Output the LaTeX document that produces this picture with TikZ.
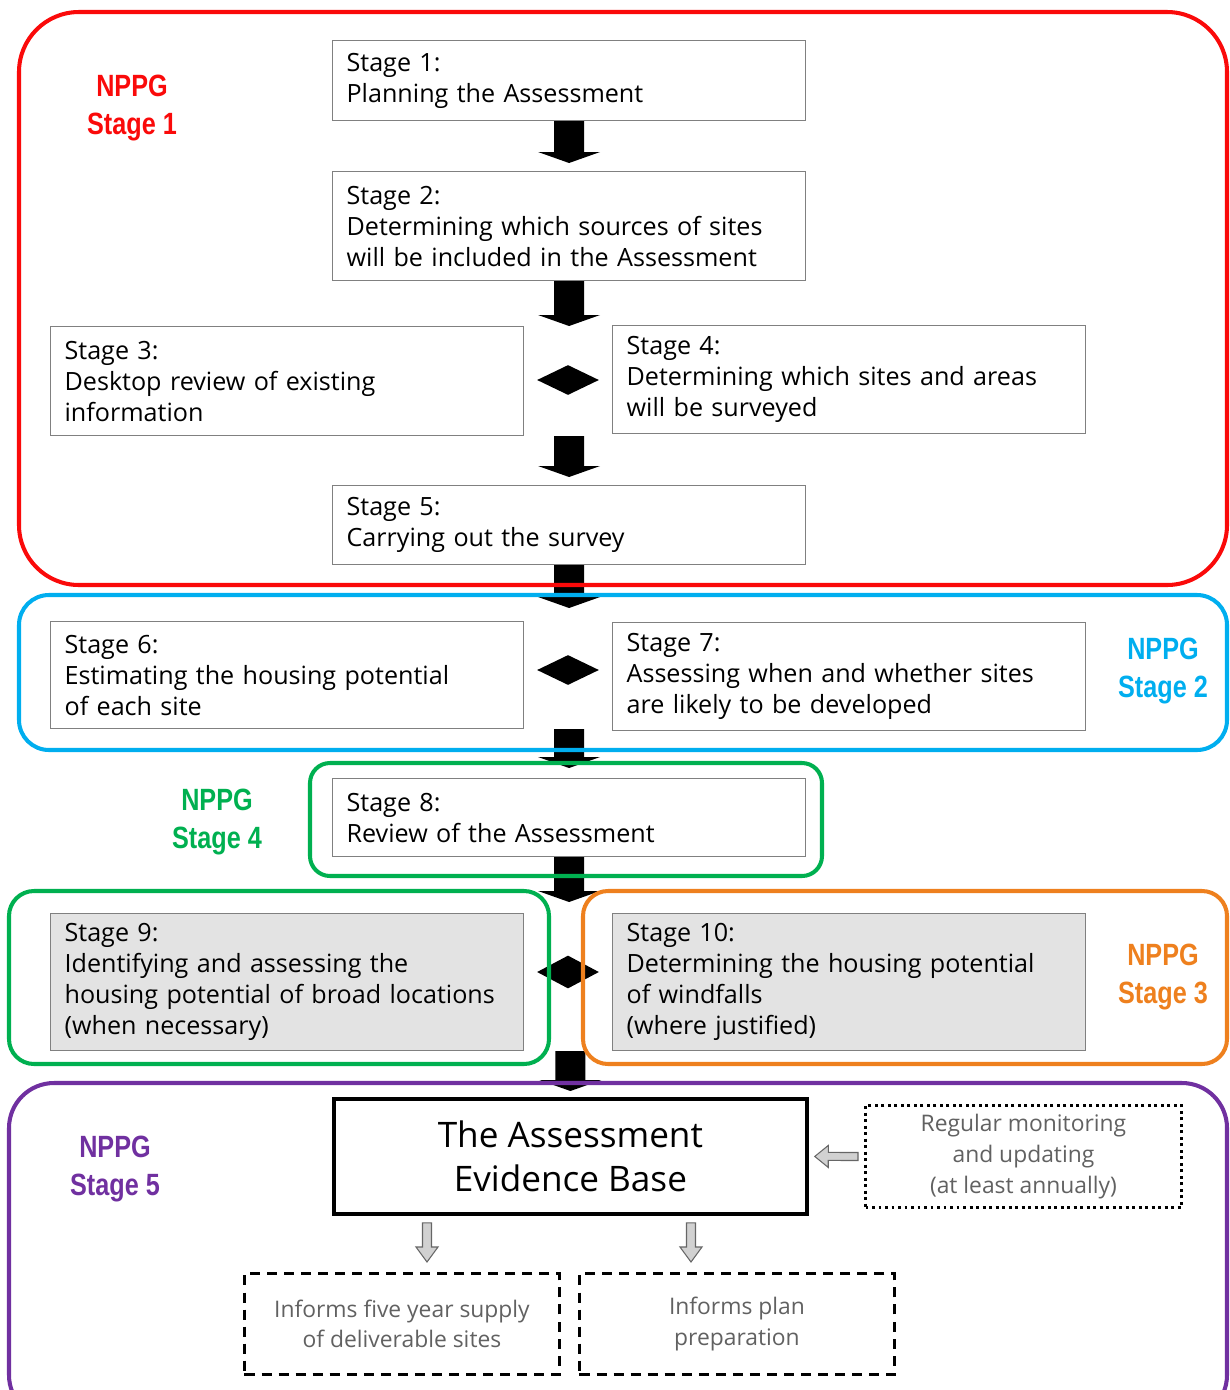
\documentclass[tikz,border=0pt]{standalone}
\usepackage{fontspec}
\setmainfont{Open Sans}
\newfontfamily\nppgfont[FakeStretch=0.82]{Liberation Sans}
\usetikzlibrary{calc,shapes.geometric}
\definecolor{nppgred}{RGB}{250,10,10}
\definecolor{nppgblue}{RGB}{0,174,239}
\definecolor{nppggreen}{RGB}{0,176,80}
\definecolor{nppgorange}{RGB}{238,128,30}
\definecolor{nppgpurple}{RGB}{112,48,160}
%% arrow as a polygon: style, from, to, half shaft, half head, head length
\newcommand\flowarrow[6]{%
  \coordinate (fa) at (#2);
  \coordinate (fb) at ($(#3)!#6!(fa)$);
  \path[#1] ($(fa)!#4!90:(fb)$) -- ($(fb)!#4!-90:(fa)$) -- ($(fb)!#5!-90:(fa)$) -- (#3)
    -- ($(fb)!#5!90:(fa)$) -- ($(fb)!#4!90:(fa)$) -- ($(fa)!#4!-90:(fb)$) -- cycle;}
\tikzset{
  stagebox/.style={draw=black!50,line width=0.7pt,anchor=north west,align=left,
    text width=8.9cm,inner xsep=0.28cm,minimum height=#1,
    font=\fontsize{14.3}{17.6}\selectfont},
  greybox/.style={stagebox=#1,fill=black!11},
  outbox/.style={anchor=north west,align=center,text=black!62,line width=1.7pt,
    font=\fontsize{13}{17.4}\selectfont},
  joiner/.style={diamond,fill=black,inner sep=0pt,minimum width=1.24cm,minimum height=0.6cm},
  blockarrow/.style={fill=black},
  hollowarrow/.style={fill=black!18,draw=black!60,line width=0.6pt},
  frame/.style={line width=2.3pt},
  nppg/.style={align=center,font=\nppgfont\fontsize{17.5}{21.8}\selectfont\bfseries}
}
\begin{document}
\begin{tikzpicture}[x=0.02cm,y=-0.02cm]
    \useasboundingbox (0,0) rectangle (1230,1390);
    \clip (0,0) rectangle (1230,1390);
    %% Stages
    \node[stagebox=1.6cm] (s1) at (332,40) {Stage 1:\\Planning the Assessment};
    \node[stagebox=2.18cm] (s2) at (332,171) {Stage 2:\\Determining which sources of sites\\will be included in the Assessment};
    \node[stagebox=2.18cm] (s3) at (50,326) {Stage 3:\\Desktop review of existing\\information};
    \node[stagebox=2.16cm] (s4) at (612,325) {Stage 4:\\Determining which sites and areas\\will be surveyed};
    \node[stagebox=1.58cm] (s5) at (332,485) {Stage 5:\\Carrying out the survey};
    \node[stagebox=2.14cm] (s6) at (50,621) {Stage 6:\\Estimating the housing potential\\of each site};
    \node[stagebox=2.16cm] (s7) at (612,622) {Stage 7:\\Assessing when and whether sites\\are likely to be developed};
    \node[stagebox=1.56cm] (s8) at (332,778) {Stage 8:\\Review of the Assessment};
    \node[greybox=2.74cm] (s9) at (50,913) {Stage 9:\\Identifying and assessing the\\housing potential of broad locations\\(when necessary)};
    \node[greybox=2.74cm] (s10) at (612,913) {Stage 10:\\Determining the housing potential\\of windfalls\\(where justified)};
    %% Evidence base and outputs
    \node[draw,line width=2.2pt,anchor=north west,align=center,minimum width=9.46cm,minimum height=2.3cm,
      font=\fontsize{20}{25}\selectfont] (ev) at (332,1097) {The Assessment\\Evidence Base};
    \node[outbox,draw,dotted,minimum width=6.32cm,minimum height=2.04cm] (mon) at (864,1104) {Regular monitoring\\and updating\\(at least annually)};
    \node[outbox,draw,dash pattern=on 5.7pt off 4pt,minimum width=6.3cm,minimum height=2.02cm] (inf1) at (243,1272) {Informs five year supply\\of deliverable sites};
    \node[outbox,draw,dash pattern=on 5.7pt off 4pt,minimum width=6.3cm,minimum height=2.02cm] (inf2) at (578,1272) {Informs plan\\preparation};
    %% Joiners
    \node[joiner] (d1) at (568,380) {};
    \node[joiner] (d2) at (568,670) {};
    \node[joiner,minimum height=0.66cm] (d3) at (568,972) {};
    %% Arrows
    \coordinate (t1) at ($(s2.north)+(0,-8)$);
    \coordinate (t2) at (s2.south |- s3.north);
    \coordinate (t3) at ($(s5.north)+(0,-8)$);
    \coordinate (t4) at ($(s5.south |- s6.north)+(0,-13)$);
    \coordinate (t5) at ($(s8.north)+(0,-10)$);
    \coordinate (t6) at ($(s8.south |- s9.north)+(0,-11)$);
    \coordinate (t7) at ($(ev.north)+(0,-6)$);
    \flowarrow{blockarrow}{s1.south}{t1}{0.3cm}{0.62cm}{0.22cm}
    \flowarrow{blockarrow}{s2.south}{t2}{0.3cm}{0.62cm}{0.22cm}
    \flowarrow{blockarrow}{s5.north |- s3.south}{t3}{0.3cm}{0.62cm}{0.22cm}
    \flowarrow{blockarrow}{s5.south}{t4}{0.3cm}{0.62cm}{0.22cm}
    \flowarrow{blockarrow}{s8.north |- s6.south}{t5}{0.3cm}{0.62cm}{0.22cm}
    \flowarrow{blockarrow}{s8.south}{t6}{0.3cm}{0.62cm}{0.22cm}
    \flowarrow{blockarrow}{ev.north |- s9.south}{t7}{0.3cm}{0.62cm}{0.22cm}
    \coordinate (m0) at ($(mon.west)+(-6,0)$);
    \coordinate (m1) at ($(ev.east)+(6,0)$);
    \coordinate (o1) at ($(ev.south west)+(95,7)$);
    \coordinate (p1) at ($(o1 |- inf1.north)+(0,-10)$);
    \coordinate (o2) at ($(ev.south west)+(359,7)$);
    \coordinate (p2) at ($(o2 |- inf2.north)+(0,-10)$);
    \flowarrow{hollowarrow}{m0}{m1}{0.08cm}{0.22cm}{0.27cm}
    \flowarrow{hollowarrow}{o1}{p1}{0.09cm}{0.22cm}{0.3cm}
    \flowarrow{hollowarrow}{o2}{p2}{0.09cm}{0.22cm}{0.3cm}
    %% NPPG frames
    \draw[frame,nppgred,rounded corners=1.2cm] (19,12) rectangle (1227,585);
    \draw[frame,nppgblue,rounded corners=0.6cm] (19,595) rectangle (1227,750);
    \draw[frame,nppggreen,rounded corners=0.4cm] (310,763) rectangle (822,876);
    \draw[frame,nppggreen,rounded corners=0.5cm] (9,891) rectangle (549,1064);
    \draw[frame,nppgorange,rounded corners=0.5cm] (583,891) rectangle (1227,1064);
    \draw[frame,nppgpurple,rounded corners=0.9cm] (9,1083) rectangle (1227,1420);
    %% NPPG labels
    \node[nppg,text=nppgred] (n1) at (132,108) {NPPG\\Stage 1};
    \node[nppg,text=nppgblue] (n2) at (1163,671) {NPPG\\Stage 2};
    \node[nppg,text=nppggreen] (n4) at (217,822) {NPPG\\Stage 4};
    \node[nppg,text=nppgorange] (n3) at (1163,977) {NPPG\\Stage 3};
    \node[nppg,text=nppgpurple] (n5) at (115,1169) {NPPG\\Stage 5};
\end{tikzpicture}
\end{document}
